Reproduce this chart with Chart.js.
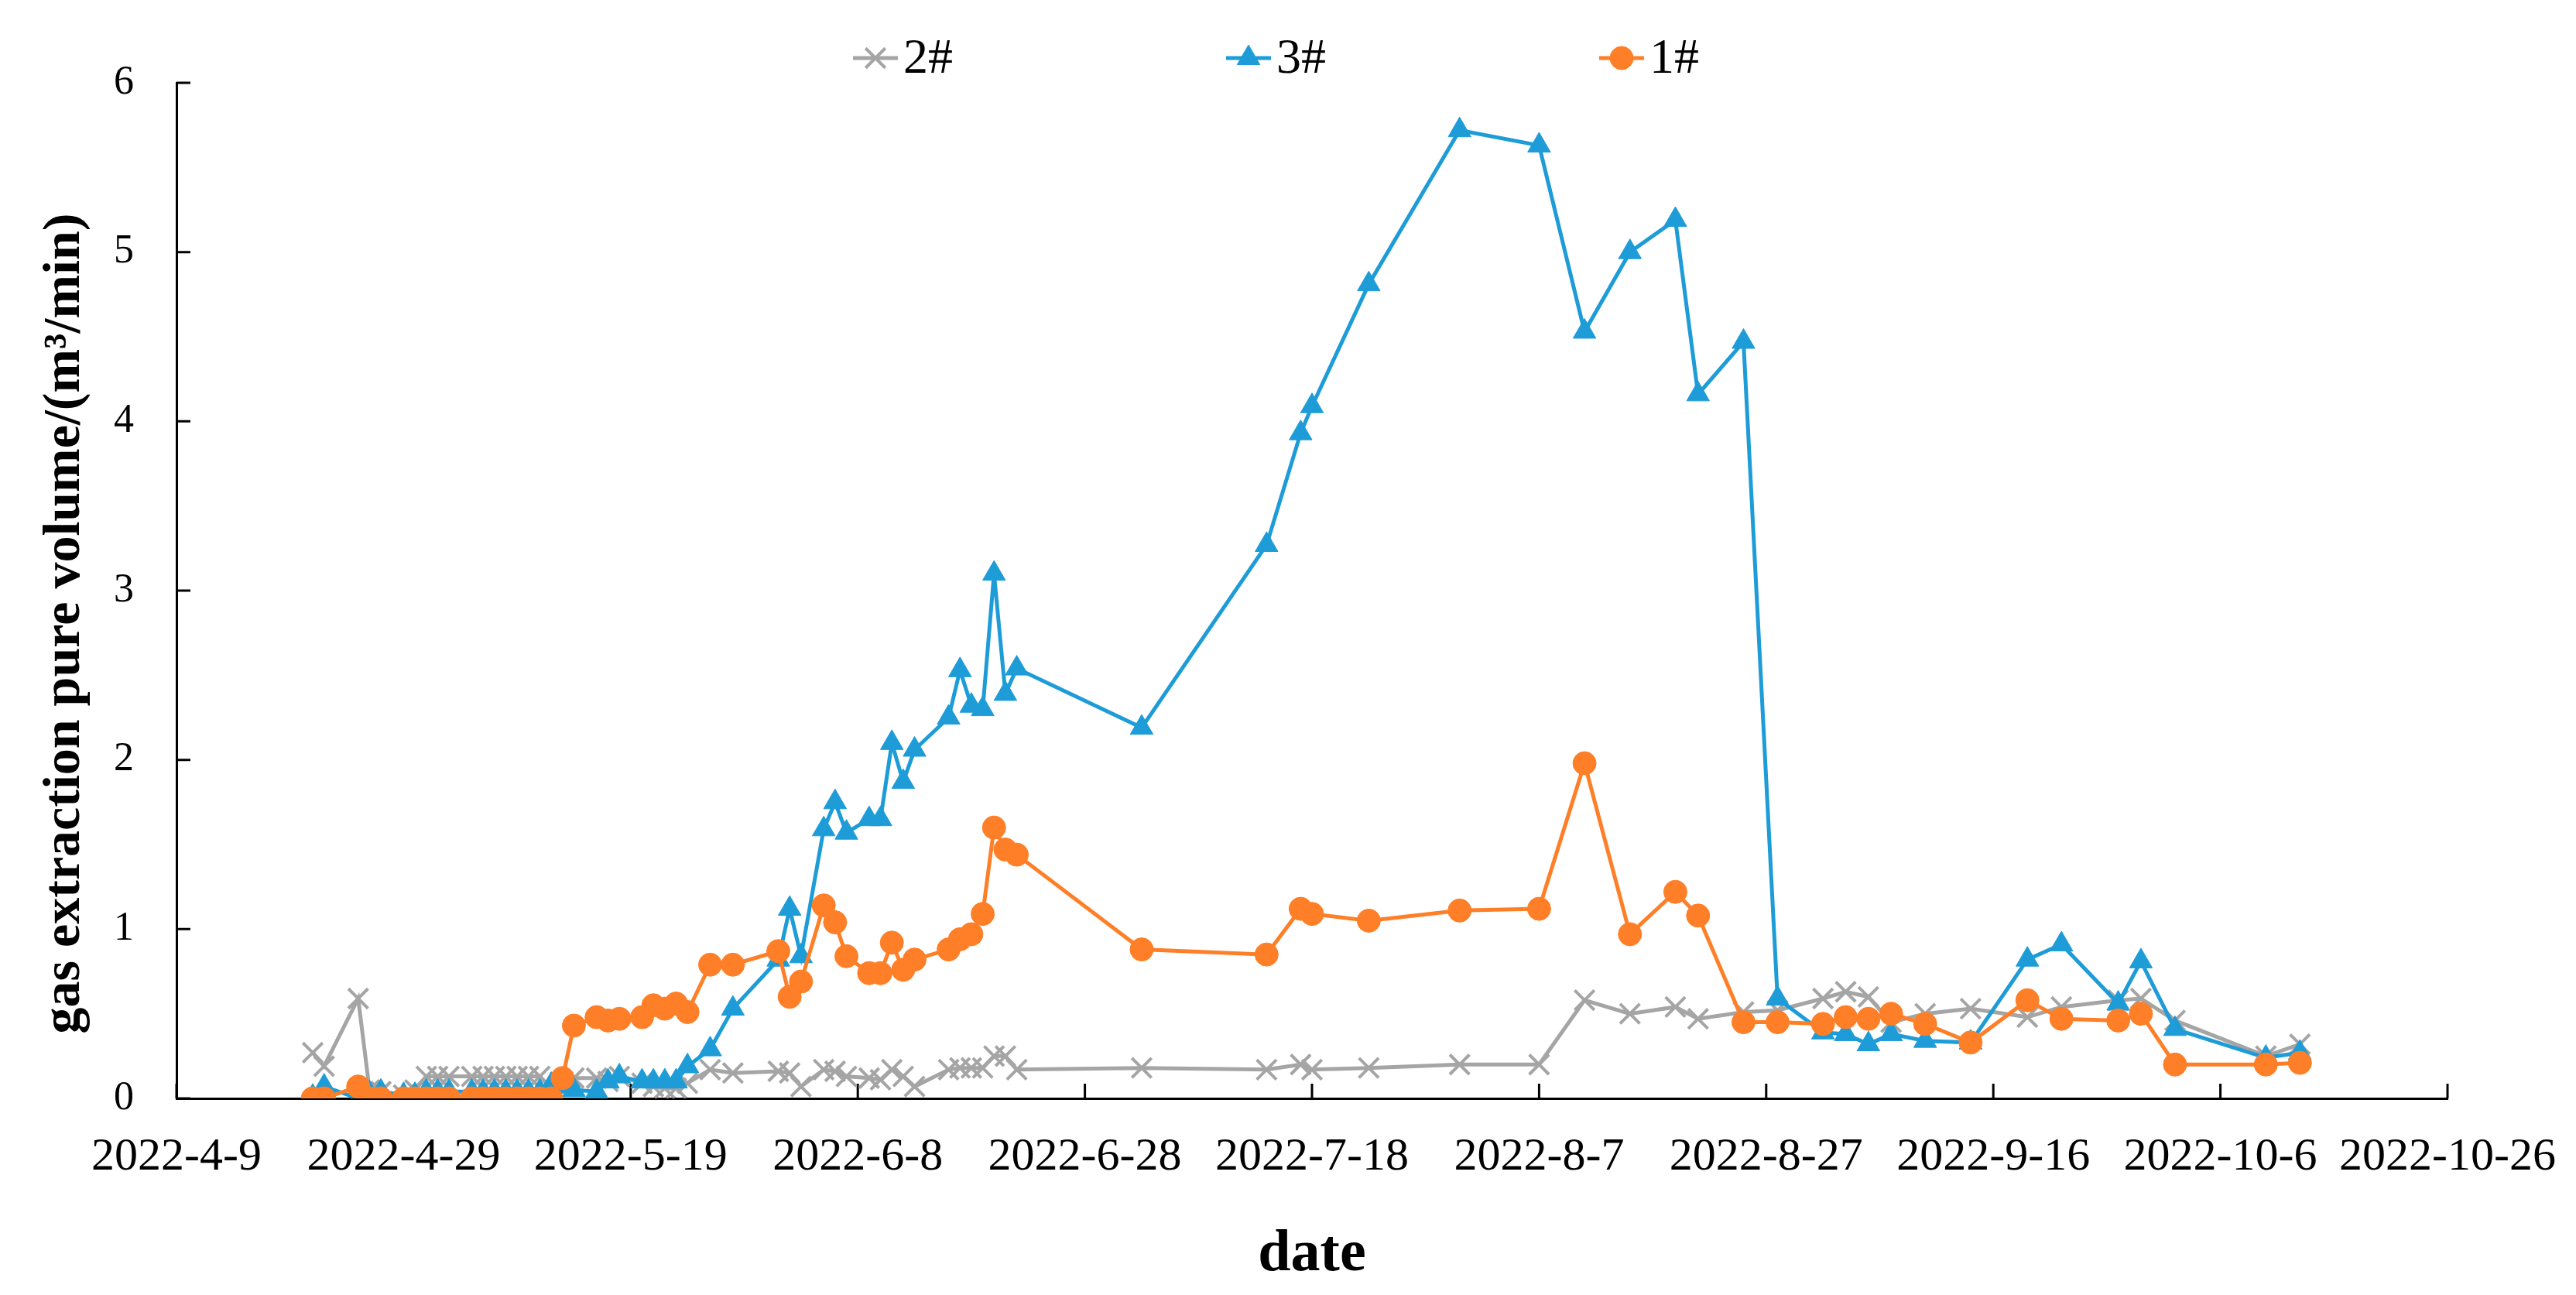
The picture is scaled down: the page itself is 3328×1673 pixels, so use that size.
<!DOCTYPE html>
<html>
<head>
<meta charset="utf-8">
<script src="https://cdn.jsdelivr.net/npm/chart.js@4.4.1/dist/chart.umd.min.js"></script>
<style>
  html, body { margin: 0; padding: 0; background: #fff; }
  #myChart { display: block; }
</style>
</head>
<body>
<canvas id="myChart" width="3328" height="1673"></canvas>
<script>
// sampling dates
const dates = ['2022-4-21','2022-4-22','2022-4-25','2022-4-26','2022-4-27','2022-4-29','2022-4-30','2022-5-1','2022-5-2','2022-5-3',
  '2022-5-5','2022-5-6','2022-5-7','2022-5-8','2022-5-9','2022-5-10','2022-5-11','2022-5-12','2022-5-13','2022-5-14',
  '2022-5-16','2022-5-17','2022-5-18','2022-5-20','2022-5-21','2022-5-22','2022-5-23','2022-5-24','2022-5-26','2022-5-28',
  '2022-6-1','2022-6-2','2022-6-3','2022-6-5','2022-6-6','2022-6-7','2022-6-9','2022-6-10','2022-6-11','2022-6-12',
  '2022-6-13','2022-6-16','2022-6-17','2022-6-18','2022-6-19','2022-6-20','2022-6-21','2022-6-22','2022-7-3','2022-7-14',
  '2022-7-17','2022-7-18','2022-7-23','2022-7-31','2022-8-7','2022-8-11','2022-8-15','2022-8-19','2022-8-21','2022-8-25',
  '2022-8-28','2022-9-1','2022-9-3','2022-9-5','2022-9-7','2022-9-10','2022-9-14','2022-9-19','2022-9-22','2022-9-27',
  '2022-9-29','2022-10-2','2022-10-10','2022-10-13'];

const well2 = [0.27,0.19,0.59,0.05,0.04,0.02,0.05,0.13,0.13,0.13,
  0.13,0.13,0.13,0.13,0.13,0.13,0.13,0.06,0.10,0.12,
  0.12,0.10,0.13,0.09,0.07,0.06,0.06,0.09,0.17,0.15,
  0.16,0.15,0.07,0.17,0.16,0.13,0.12,0.11,0.17,0.13,
  0.07,0.17,0.18,0.18,0.18,0.25,0.25,0.17,0.18,0.17,
  0.20,0.17,0.18,0.20,0.20,0.58,0.50,0.54,0.47,0.51,
  0.52,0.59,0.63,0.60,0.45,0.50,0.53,0.48,0.54,0.58,
  0.59,0.46,0.25,0.32];

const well3 = [0.01,0.07,0.0,0.03,0.04,0.02,0.02,0.04,0.04,0.04,
  0.04,0.04,0.04,0.04,0.04,0.04,0.04,0.08,0.07,0.05,
  0.04,0.10,0.13,0.10,0.10,0.10,0.10,0.19,0.29,0.53,
  0.82,1.12,0.84,1.59,1.75,1.57,1.65,1.65,2.10,1.87,
  2.06,2.25,2.53,2.32,2.30,3.10,2.39,2.54,2.19,3.27,
  3.93,4.09,4.81,5.72,5.63,4.53,5.00,5.19,4.16,4.47,
  0.59,0.39,0.38,0.32,0.38,0.34,0.33,0.82,0.91,0.56,
  0.81,0.41,0.24,0.27];

const well1 = [0,0,0.07,0,0,0,0,0,0,0,
  0,0,0,0,0,0,0,0,0.12,0.43,
  0.48,0.46,0.47,0.48,0.55,0.53,0.56,0.51,0.79,0.79,
  0.87,0.60,0.69,1.14,1.04,0.84,0.74,0.74,0.92,0.76,
  0.82,0.88,0.94,0.97,1.09,1.60,1.47,1.44,0.88,0.85,
  1.12,1.09,1.05,1.11,1.12,1.98,0.97,1.22,1.08,0.45,
  0.45,0.44,0.48,0.47,0.50,0.44,0.33,0.58,0.47,0.46,
  0.50,0.20,0.20,0.21];

const xTickLabels = ['2022-4-9','2022-4-29','2022-5-19','2022-6-8','2022-6-28','2022-7-18',
  '2022-8-7','2022-8-27','2022-9-16','2022-10-6','2022-10-26'];

const serif = "'Liberation Serif', 'Times New Roman', serif";

// days since the first tick label
function dayOf(s){
  const p = s.split('-').map(Number);
  return Math.round((Date.UTC(p[0], p[1]-1, p[2]) - Date.UTC(2022, 3, 9)) / 864e5);
}
function pts(vals){
  return dates.map((d, i) => ({x: dayOf(d), y: vals[i]}));
}

// ticks pointing into the plot, like the original
const innerTicks = {
  id: 'innerTicks',
  beforeDatasetsDraw(chart){
    const c = chart.ctx, a = chart.chartArea;
    const xs = chart.scales.x, ys = chart.scales.y;
    c.save();
    c.strokeStyle = '#000';
    c.lineWidth = 3;
    c.beginPath();
    xs.ticks.forEach(t => {
      const x = xs.getPixelForValue(t.value);
      c.moveTo(x, a.bottom); c.lineTo(x, a.bottom - 19);
    });
    ys.ticks.forEach(t => {
      const y = ys.getPixelForValue(t.value);
      c.moveTo(a.left, y); c.lineTo(a.left + 18, y);
    });
    c.stroke();
    c.restore();
  }
};

// excel style legend: short line + marker + text
const lineLegend = {
  id: 'lineLegend',
  afterDraw(chart){
    const c = chart.ctx;
    const mid = chart.width / 2;
    const cy = 75;
    chart.data.datasets.forEach((ds, i) => {
      const cx = mid - 533 + i * 482;
      c.save();
      c.strokeStyle = ds.borderColor;
      c.lineWidth = ds.borderWidth;
      c.beginPath();
      c.moveTo(cx - 29, cy); c.lineTo(cx + 29, cy);
      c.stroke();
      c.fillStyle = ds.backgroundColor;
      c.lineWidth = ds.pointBorderWidth;
      Chart.helpers.drawPoint(c, {
        pointStyle: ds.pointStyle, radius: ds.pointRadius, rotation: 0,
        borderWidth: ds.pointBorderWidth
      }, cx, cy);
      c.fillStyle = '#000';
      c.font = "64px " + serif;
      c.textBaseline = 'middle';
      c.textAlign = 'left';
      c.fillText(ds.label, cx + 36, cy + 2);
      c.restore();
    });
  }
};

new Chart(document.getElementById('myChart'), {
  type: 'line',
  data: {
    datasets: [
      {
        label: '2#', data: pts(well2), order: 3,
        borderColor: '#A5A5A5', backgroundColor: '#A5A5A5',
        borderWidth: 5, pointStyle: 'crossRot', pointRadius: 18, pointBorderWidth: 4,
        pointBorderColor: '#A5A5A5', tension: 0
      },
      {
        label: '3#', data: pts(well3), order: 2,
        borderColor: '#1E9CD7', backgroundColor: '#1E9CD7',
        borderWidth: 5, pointStyle: 'triangle', pointRadius: 17, pointBorderWidth: 1,
        tension: 0
      },
      {
        label: '1#', data: pts(well1), order: 1,
        borderColor: '#FE7F27', backgroundColor: '#FE7F27',
        borderWidth: 5, pointStyle: 'circle', pointRadius: 15, pointBorderWidth: 1,
        tension: 0
      }
    ]
  },
  options: {
    responsive: false,
    devicePixelRatio: 1,
    animation: false,
    layout: { padding: { top: 107, right: 166, left: 0, bottom: 0 } },
    plugins: {
      legend: { display: false },
      tooltip: { enabled: false }
    },
    scales: {
      x: {
        type: 'linear',
        min: 0, max: 200,
        afterFit(scale){
          scale.height = 254;
          // let the layout padding alone decide the plot width
          scale.paddingLeft = 0;
          scale.paddingRight = 0;
        },
        afterBuildTicks(scale){
          scale.ticks = xTickLabels.map(l => ({value: dayOf(l)}));
        },
        grid: { display: false, drawTicks: false },
        border: { display: true, color: '#000', width: 3 },
        ticks: {
          padding: 40,
          maxRotation: 0,
          autoSkip: false,
          color: '#000',
          font: { family: serif, size: 60 },
          callback(v){
            const l = xTickLabels.find(s => dayOf(s) === v);
            return l || '';
          }
        },
        title: {
          display: true, text: 'date', color: '#000',
          font: { family: serif, size: 76, weight: 'bold' },
          padding: { top: 0, bottom: 6 }
        }
      },
      y: {
        min: 0, max: 6,
        afterFit(scale){ scale.width = 228; },
        grid: { display: false, drawTicks: false },
        border: { display: true, color: '#000', width: 3 },
        ticks: {
          stepSize: 1,
          padding: 55,
          color: '#000',
          font: { family: serif, size: 52 }
        },
        title: {
          display: true,
          // trailing no-break spaces push the rotated text down a little, as in the original
          text: 'gas extraction pure volume/(m³/min)\u00A0\u00A0\u00A0\u00A0\u00A0',
          color: '#000',
          font: { family: serif, size: 68, weight: 'bold' },
          padding: { top: 44, bottom: 0 }
        }
      }
    }
  },
  plugins: [innerTicks, lineLegend]
});
</script>
</body>
</html>
